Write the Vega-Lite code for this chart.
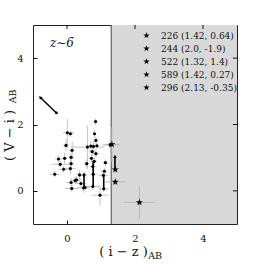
{
  "$schema": "https://vega.github.io/schema/vega-lite/v6.json",
  "width": 204,
  "height": 199,
  "autosize": {"type": "none"},
  "padding": {"left": 33, "top": 25, "right": 27, "bottom": 40},
  "background": "white",
  "config": {
    "view": {"stroke": "#222", "strokeWidth": 1},
    "font": "DejaVu Serif",
    "axis": {"grid": false, "domain": false, "tickColor": "#111", "tickSize": -4, "tickWidth": 1, "labelFont": "DejaVu Serif", "labelFontSize": 10, "labelColor": "#111", "titleFont": "DejaVu Serif", "titleFontWeight": "normal", "titleColor": "#111"}
  },
  "datasets": {
    "pts": [
      {"x": 0.84, "y": 2.09, "xlo": 0.79, "xhi": 0.89, "ylo": 1.99, "yhi": 2.19},
      {"x": 0.01, "y": 1.75, "xlo": -0.12, "xhi": 0.2, "ylo": 1.3, "yhi": 2.17},
      {"x": 0.1, "y": 1.72, "xlo": 0.0, "xhi": 0.2, "ylo": 1.62, "yhi": 1.82},
      {"x": 0.81, "y": 1.72, "xlo": 0.76, "xhi": 0.86, "ylo": 1.6, "yhi": 1.84},
      {"x": 0.85, "y": 1.52, "xlo": 0.8, "xhi": 0.9, "ylo": 1.42, "yhi": 1.62},
      {"x": 0.78, "y": 1.34, "xlo": 0.68, "xhi": 0.88, "ylo": 1.2, "yhi": 1.5},
      {"x": 0.88, "y": 1.36, "xlo": 0.83, "xhi": 0.93, "ylo": 1.26, "yhi": 1.46},
      {"x": -0.03, "y": 1.37, "xlo": -0.12, "xhi": 0.06, "ylo": 1.2, "yhi": 1.55},
      {"x": 0.15, "y": 1.22, "xlo": 0.1, "xhi": 0.2, "ylo": 0.95, "yhi": 1.5},
      {"x": 0.6, "y": 1.32, "xlo": 0.13, "xhi": 1.1, "ylo": 0.65, "yhi": 1.97},
      {"x": 0.7, "y": 1.35, "xlo": 0.6, "xhi": 0.8, "ylo": 1.2, "yhi": 1.5},
      {"x": 0.74, "y": 1.18, "xlo": 0.64, "xhi": 0.84, "ylo": 1.05, "yhi": 1.3},
      {"x": 0.85, "y": 1.12, "xlo": 0.75, "xhi": 0.95, "ylo": 1.0, "yhi": 1.25},
      {"x": 1.27, "y": 1.38, "xlo": 1.05, "xhi": 1.5, "ylo": 1.2, "yhi": 1.55},
      {"x": -0.25, "y": 0.96, "xlo": -0.35, "xhi": -0.15, "ylo": 0.86, "yhi": 1.06},
      {"x": -0.07, "y": 0.98, "xlo": -0.15, "xhi": 0.01, "ylo": 0.8, "yhi": 1.15},
      {"x": -0.2, "y": 0.8, "xlo": -0.45, "xhi": 0.05, "ylo": 0.7, "yhi": 0.9},
      {"x": 0.12, "y": 1.01, "xlo": 0.05, "xhi": 0.2, "ylo": 0.85, "yhi": 1.15},
      {"x": -0.1, "y": 0.65, "xlo": -0.25, "xhi": 0.05, "ylo": 0.55, "yhi": 0.75},
      {"x": 0.12, "y": 0.82, "xlo": 0.05, "xhi": 0.2, "ylo": 0.7, "yhi": 0.95},
      {"x": 0.1, "y": 0.67, "xlo": -0.05, "xhi": 0.25, "ylo": 0.5, "yhi": 0.85},
      {"x": -0.36, "y": 0.5, "xlo": -0.5, "xhi": -0.22, "ylo": 0.4, "yhi": 0.6},
      {"x": 0.72, "y": 0.98, "xlo": 0.64, "xhi": 0.8, "ylo": 0.85, "yhi": 1.1},
      {"x": 0.8, "y": 0.89, "xlo": 0.72, "xhi": 0.88, "ylo": 0.78, "yhi": 1.0},
      {"x": 0.58, "y": 0.82, "xlo": 0.5, "xhi": 0.66, "ylo": 0.7, "yhi": 0.95},
      {"x": 0.76, "y": 0.73, "xlo": 0.66, "xhi": 0.86, "ylo": 0.6, "yhi": 0.86},
      {"x": 1.13, "y": 0.85, "xlo": 1.05, "xhi": 1.21, "ylo": 0.75, "yhi": 0.95},
      {"x": 1.1, "y": 0.59, "xlo": 1.02, "xhi": 1.18, "ylo": 0.5, "yhi": 0.7},
      {"x": 1.07, "y": 0.47, "xlo": 0.92, "xhi": 1.22, "ylo": 0.37, "yhi": 0.57},
      {"x": 0.37, "y": 0.48, "xlo": 0.27, "xhi": 0.47, "ylo": 0.33, "yhi": 0.63},
      {"x": 0.5, "y": 0.48, "xlo": 0.4, "xhi": 0.6, "ylo": 0.38, "yhi": 0.58},
      {"x": 0.77, "y": 0.5, "xlo": 0.67, "xhi": 0.87, "ylo": 0.35, "yhi": 0.65},
      {"x": 0.24, "y": 0.31, "xlo": 0.09, "xhi": 0.39, "ylo": 0.21, "yhi": 0.41},
      {"x": 0.28, "y": 0.33, "xlo": 0.18, "xhi": 0.38, "ylo": 0.23, "yhi": 0.43},
      {"x": 0.41, "y": 0.22, "xlo": 0.26, "xhi": 0.56, "ylo": 0.07, "yhi": 0.37},
      {"x": 0.12, "y": 0.25, "xlo": -0.03, "xhi": 0.27, "ylo": 0.1, "yhi": 0.4},
      {"x": 0.14, "y": 0.07, "xlo": -0.06, "xhi": 0.34, "ylo": -0.03, "yhi": 0.17},
      {"x": 0.49, "y": 0.09, "xlo": 0.29, "xhi": 0.69, "ylo": -0.06, "yhi": 0.24},
      {"x": 0.53, "y": 0.1, "xlo": 0.43, "xhi": 0.63, "ylo": 0.0, "yhi": 0.2},
      {"x": 0.76, "y": 0.13, "xlo": 0.56, "xhi": 0.96, "ylo": 0.03, "yhi": 0.23},
      {"x": 1.08, "y": 0.06, "xlo": 0.93, "xhi": 1.23, "ylo": -0.04, "yhi": 0.16},
      {"x": 0.97, "y": -0.13, "xlo": 0.72, "xhi": 1.22, "ylo": -0.43, "yhi": 0.17}
    ],
    "stars": [
      {"label": "226 (1.42, 0.64)", "x": 1.42, "y": 0.64, "xlo": 1.37, "xhi": 1.47, "ylo": 0.56, "yhi": 0.72},
      {"label": "244 (2.0, -1.9)", "x": 2.0, "y": -1.9, "xlo": 2.0, "xhi": 2.0, "ylo": -1.9, "yhi": -1.9},
      {"label": "522 (1.32, 1.4)", "x": 1.32, "y": 1.4, "xlo": 1.1, "xhi": 1.54, "ylo": 0.88, "yhi": 1.92},
      {"label": "589 (1.42, 0.27)", "x": 1.42, "y": 0.27, "xlo": 1.12, "xhi": 1.72, "ylo": 0.17, "yhi": 0.37},
      {"label": "296 (2.13, -0.35)", "x": 2.13, "y": -0.35, "xlo": 1.67, "xhi": 2.59, "ylo": -0.85, "yhi": 0.15}
    ],
    "bars": [
      {"x": 0.5, "y1": 0.08, "y2": 0.5},
      {"x": 0.77, "y1": 0.13, "y2": 0.89},
      {"x": 1.08, "y1": 0.06, "y2": 0.47},
      {"x": 1.41, "y1": 0.64, "y2": 1.04}
    ]
  },
  "layer": [
    {
      "data": {"values": [{"x": 1.3, "x2": 5, "y": -1, "y2": 5}]},
      "mark": {"type": "rect", "color": "#d9d9d9"},
      "encoding": {
        "x": {"field": "x", "type": "quantitative", "scale": {"domain": [-1, 5], "nice": false, "zero": false},
              "axis": {"orient": "bottom", "values": [0, 2, 4], "labelPadding": 13, "title": "( i − z )", "titleFontSize": 13, "titleX": 90, "titleY": 31, "titleBaseline": "alphabetic"}},
        "x2": {"field": "x2"},
        "y": {"field": "y", "type": "quantitative", "scale": {"domain": [-1, 5], "nice": false, "zero": false},
              "axis": {"orient": "left", "values": [0, 2, 4], "labelPadding": 14, "title": "( V − i )", "titleFontSize": 13, "titleX": -20, "titleY": 110, "titleBaseline": "alphabetic"}},
        "y2": {"field": "y2"}
      }
    },
    {
      "data": {"values": [{"x": 1.3}]},
      "mark": {"type": "rule", "color": "#444", "strokeWidth": 1},
      "encoding": {"x": {"field": "x", "type": "quantitative"}}
    },
    {
      "data": {"values": [{"x": 0, "y": 5, "y2": 4.88}, {"x": 2, "y": 5, "y2": 4.88}, {"x": 4, "y": 5, "y2": 4.88}]},
      "mark": {"type": "rule", "color": "#111", "strokeWidth": 1},
      "encoding": {
        "x": {"field": "x", "type": "quantitative"},
        "y": {"field": "y", "type": "quantitative"},
        "y2": {"field": "y2"}
      }
    },
    {
      "data": {"values": [{"y": 0, "x": 5, "x2": 4.88}, {"y": 2, "x": 5, "x2": 4.88}, {"y": 4, "x": 5, "x2": 4.88}]},
      "mark": {"type": "rule", "color": "#111", "strokeWidth": 1},
      "encoding": {
        "x": {"field": "x", "type": "quantitative"},
        "x2": {"field": "x2"},
        "y": {"field": "y", "type": "quantitative"}
      }
    },
    {
      "data": {"name": "pts"},
      "mark": {"type": "rule", "color": "#c4c4c4", "strokeWidth": 1},
      "encoding": {
        "x": {"field": "xlo", "type": "quantitative"},
        "x2": {"field": "xhi"},
        "y": {"field": "y", "type": "quantitative"}
      }
    },
    {
      "data": {"name": "pts"},
      "mark": {"type": "rule", "color": "#c4c4c4", "strokeWidth": 1},
      "encoding": {
        "x": {"field": "x", "type": "quantitative"},
        "y": {"field": "ylo", "type": "quantitative"},
        "y2": {"field": "yhi"}
      }
    },
    {
      "data": {"name": "stars"},
      "mark": {"type": "rule", "color": "#b8b8b8", "strokeWidth": 1, "clip": true},
      "encoding": {
        "x": {"field": "xlo", "type": "quantitative"},
        "x2": {"field": "xhi"},
        "y": {"field": "y", "type": "quantitative"}
      }
    },
    {
      "data": {"name": "stars"},
      "mark": {"type": "rule", "color": "#b8b8b8", "strokeWidth": 1, "clip": true},
      "encoding": {
        "x": {"field": "x", "type": "quantitative"},
        "y": {"field": "ylo", "type": "quantitative"},
        "y2": {"field": "yhi"}
      }
    },
    {
      "data": {"name": "bars"},
      "mark": {"type": "rule", "color": "black", "strokeWidth": 1.6},
      "encoding": {
        "x": {"field": "x", "type": "quantitative"},
        "y": {"field": "y1", "type": "quantitative"},
        "y2": {"field": "y2"}
      }
    },
    {
      "data": {"values": [{"x": 1.41, "y": 1.04}]},
      "mark": {"type": "point", "shape": "triangle-up", "filled": true, "color": "black", "size": 14, "opacity": 1},
      "encoding": {
        "x": {"field": "x", "type": "quantitative"},
        "y": {"field": "y", "type": "quantitative"}
      }
    },
    {
      "data": {"values": [{"x": -0.31, "y": 2.35, "x2": -0.79, "y2": 2.82}]},
      "mark": {"type": "rule", "color": "black", "strokeWidth": 1.4},
      "encoding": {
        "x": {"field": "x", "type": "quantitative"},
        "y": {"field": "y", "type": "quantitative"},
        "x2": {"field": "x2"},
        "y2": {"field": "y2"}
      }
    },
    {
      "data": {"values": [{"x": -0.79, "y": 2.82}]},
      "mark": {"type": "point", "shape": "triangle-up", "filled": true, "color": "black", "size": 14, "angle": -45, "opacity": 1},
      "encoding": {
        "x": {"field": "x", "type": "quantitative"},
        "y": {"field": "y", "type": "quantitative"}
      }
    },
    {
      "data": {"values": [{"x": -0.31, "y": 2.35}]},
      "mark": {"type": "circle", "color": "black", "size": 8, "opacity": 1},
      "encoding": {
        "x": {"field": "x", "type": "quantitative"},
        "y": {"field": "y", "type": "quantitative"}
      }
    },
    {
      "data": {"name": "pts"},
      "mark": {"type": "circle", "color": "black", "size": 10, "opacity": 1},
      "encoding": {
        "x": {"field": "x", "type": "quantitative"},
        "y": {"field": "y", "type": "quantitative"}
      }
    },
    {
      "data": {"name": "stars"},
      "mark": {"type": "point", "filled": true, "color": "black", "size": 55, "opacity": 1, "clip": true},
      "encoding": {
        "x": {"field": "x", "type": "quantitative"},
        "y": {"field": "y", "type": "quantitative"},
        "shape": {"field": "label", "type": "nominal",
                  "scale": {"domain": ["226 (1.42, 0.64)", "244 (2.0, -1.9)", "522 (1.32, 1.4)", "589 (1.42, 0.27)", "296 (2.13, -0.35)"],
                            "range": ["M0,-1L0.2245,-0.309L0.951,-0.309L0.363,0.118L0.588,0.809L0,0.382L-0.588,0.809L-0.363,0.118L-0.951,-0.309L-0.2245,-0.309Z"]},
                  "legend": {"orient": "none", "legendX": 109, "legendY": 6, "title": null, "padding": 0, "symbolSize": 45, "symbolFillColor": "black", "symbolStrokeColor": "black", "symbolStrokeWidth": 0, "labelFont": "DejaVu Serif", "labelFontSize": 9, "labelColor": "#111", "labelOffset": 10, "rowPadding": 3}}
      }
    },
    {
      "data": {"values": [{"x": -0.15, "y": 4.47, "t": "z∼6"}]},
      "mark": {"type": "text", "font": "DejaVu Serif", "fontStyle": "italic", "fontSize": 12, "color": "#111"},
      "encoding": {
        "x": {"field": "x", "type": "quantitative"},
        "y": {"field": "y", "type": "quantitative"},
        "text": {"field": "t"}
      }
    },
    {
      "data": {"values": [{"x": 2.39, "y": -2.06, "t": "AB"}]},
      "mark": {"type": "text", "font": "DejaVu Serif", "fontSize": 9.5, "color": "#111", "align": "left", "baseline": "alphabetic", "clip": false},
      "encoding": {
        "x": {"field": "x", "type": "quantitative"},
        "y": {"field": "y", "type": "quantitative"},
        "text": {"field": "t"}
      }
    },
    {
      "data": {"values": [{"x": -1.49, "y": 2.64, "t": "AB"}]},
      "mark": {"type": "text", "font": "DejaVu Serif", "fontSize": 9.5, "color": "#111", "align": "left", "baseline": "alphabetic", "angle": 270, "clip": false},
      "encoding": {
        "x": {"field": "x", "type": "quantitative"},
        "y": {"field": "y", "type": "quantitative"},
        "text": {"field": "t"}
      }
    }
  ]
}
